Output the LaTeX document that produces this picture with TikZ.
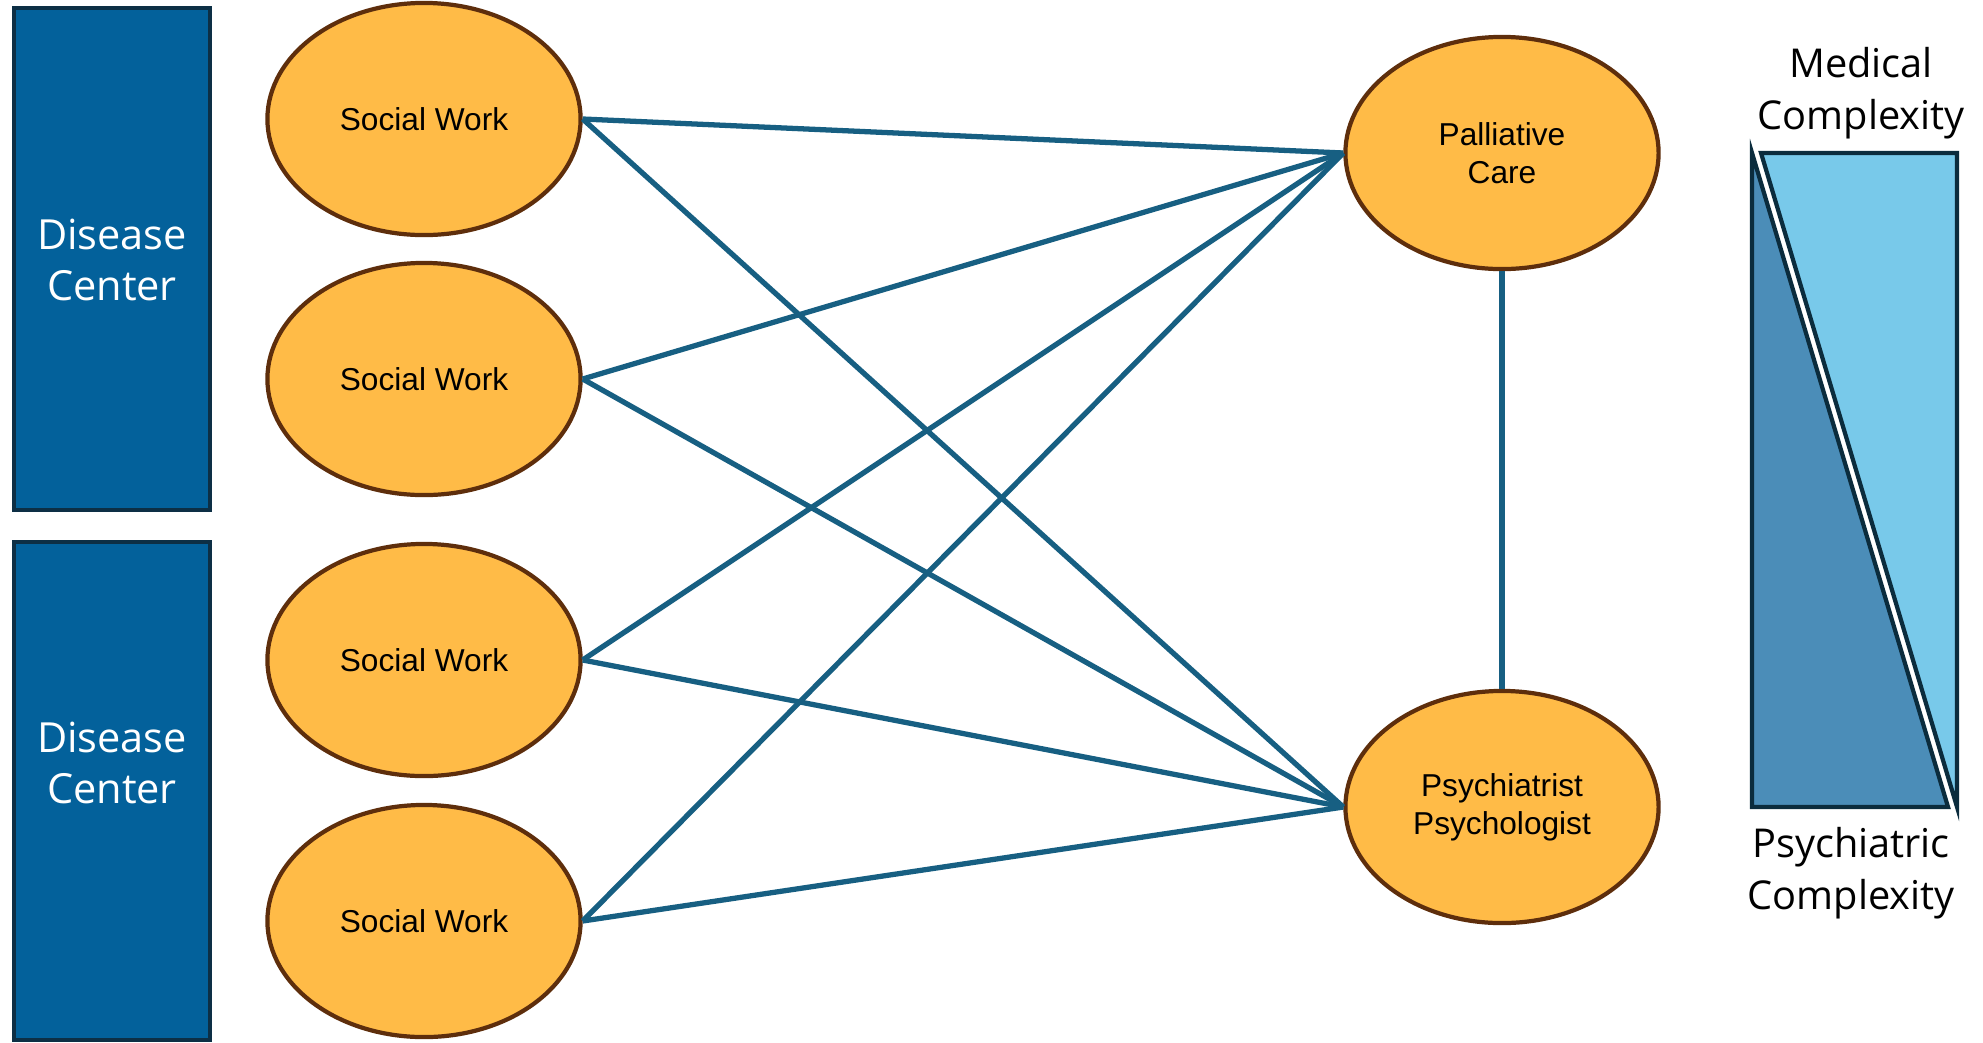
\documentclass[tikz,border=0pt]{standalone}
\usepackage{fontspec}
\setmainfont{Liberation Sans}
\newfontfamily\labelfont{Open Sans}
\usetikzlibrary{shapes.geometric}

\definecolor{centerblue}{HTML}{03619B}
\definecolor{centeredge}{HTML}{0D2F45}
\definecolor{teamfill}{HTML}{FFBB47}
\definecolor{teamedge}{HTML}{5E2E0C}
\definecolor{linkblue}{HTML}{175F82}
\definecolor{medlight}{HTML}{78C9EA}
\definecolor{psydark}{HTML}{4B8DB8}
\definecolor{wedgeedge}{HTML}{0B2C3D}

\tikzset{
    centerbox/.style={draw=centeredge, line width=1pt, fill=centerblue,
        minimum width=1.96cm, inner sep=0pt},
    centertext/.style={text=white, align=center,
        font=\labelfont\fontsize{11.8}{14.7}\selectfont},
    team/.style={ellipse, draw=teamedge, line width=1.2pt, fill=teamfill,
        minimum width=3.13cm, minimum height=2.32cm, inner sep=0pt,
        align=center, font=\fontsize{9}{10.8}\selectfont},
    link/.style={draw=linkblue, line width=1.5pt},
    wedge/.style={draw=wedgeedge, line width=1.2pt, line join=miter},
    scaletext/.style={align=center, font=\labelfont\fontsize{11.3}{14.7}\selectfont}
}

\begin{document}
\begin{tikzpicture}[x=0.01cm, y=-0.01cm]
    \useasboundingbox (0,0) rectangle (1983,1042);

    % Disease centers
    \node[centerbox, minimum height=5.02cm] (dc1) at (112,259) {};
    \node[centertext] (dc1text) at (112,260) {Disease\\Center};
    \node[centerbox, minimum height=4.98cm] (dc2) at (112,791) {};
    \node[centertext] (dc2text) at (112,763) {Disease\\Center};

    % Social work teams
    \node[team] (sw1) at (424,119) {Social Work};
    \node[team] (sw2) at (424,379) {Social Work};
    \node[team] (sw3) at (424,660) {Social Work};
    \node[team] (sw4) at (424,921) {Social Work};

    % Consult services
    \node[team] (pal) at (1502,153) {Palliative\\Care};
    \node[team] (psy) at (1502,807) {Psychiatrist\\Psychologist};

    % Links
    \foreach \sw in {sw1,sw2,sw3,sw4} {
        \draw[link] (\sw.east) -- (pal.west);
        \draw[link] (\sw.east) -- (psy.west);
    }
    \draw[link] (pal.south) -- (psy.north);

    % Complexity scale
    \draw[wedge, fill=medlight] (1761,153) -- (1957,153) -- (1957,807) -- cycle;
    \draw[wedge, fill=psydark] (1752,153) -- (1752,807) -- (1948,807) -- cycle;
    \node[scaletext] (medlabel) at (1861,93) {Medical\\Complexity};
    \node[scaletext] (psylabel) at (1851,873) {Psychiatric\\Complexity};
\end{tikzpicture}
\end{document}
